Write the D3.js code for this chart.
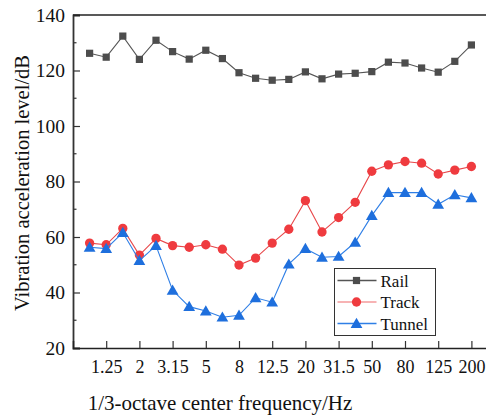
<!DOCTYPE html>
<html>
<head>
<meta charset="utf-8">
<script src="https://cdn.jsdelivr.net/npm/d3@7/dist/d3.min.js"></script>
<style>
  html, body { margin: 0; padding: 0; background: #fff; }
  svg { display: block; }
  svg text { font-family: "Liberation Serif", "Times New Roman", serif; }
</style>
</head>
<body>
<svg id="chart" width="486" height="415"></svg>
<script>
// 1/3-octave centre frequencies (Hz)
const frequencies = ["1", "1.25", "1.6", "2", "2.5", "3.15", "4", "5", "6.3", "8", "10", "12.5",
  "16", "20", "25", "31.5", "40", "50", "63", "80", "100", "125", "160", "200"];
const tickLabels = ["1.25", "2", "3.15", "5", "8", "12.5", "20", "31.5", "50", "80", "125", "200"];

// Vibration acceleration level (dB)
const railLevels = [126.2, 124.8, 132.4, 124.0, 130.9, 126.8, 124.1, 127.3, 124.3, 119.2, 117.2, 116.5,
  116.8, 119.5, 117.0, 118.7, 119.0, 119.6, 123.0, 122.7, 120.9, 119.4, 123.3, 129.2];
const trackLevels = [57.8, 57.2, 63.1, 53.5, 59.5, 56.9, 56.3, 57.2, 55.6, 49.9, 52.4, 57.8,
  62.8, 73.1, 61.8, 67.0, 72.5, 83.7, 86.0, 87.2, 86.6, 82.7, 84.1, 85.4];
const tunnelLevels = [56.3, 55.8, 61.6, 51.5, 56.9, 40.8, 34.9, 33.3, 31.1, 31.8, 38.1, 36.5,
  50.2, 55.8, 52.7, 53.0, 58.1, 67.7, 76.0, 76.0, 76.0, 71.8, 75.2, 74.1];

const yTicks = [20, 40, 60, 80, 100, 120, 140];

const series = [
  { name: "Rail", values: railLevels, color: "#555555", marker: "#4d4d4d", legendLine: "#555555", symbol: d3.symbolSquare, size: 52 },
  { name: "Track", values: trackLevels, color: "#e8474a", marker: "#ef3b3f", legendLine: "#f49a9b", symbol: d3.symbolCircle, size: 68 },
  { name: "Tunnel", values: tunnelLevels, color: "#2f7fe6", marker: "#1e6fdd", legendLine: "#2f7fe6", symbol: d3.symbolTriangle, size: 60 }
];

const svg = d3.select("#chart");
const plotLeft = 73, plotRight = 488, plotTop = 15, plotBottom = 348;
const serif = "'Liberation Serif', 'Times New Roman', serif";

const x = d3.scalePoint().domain(frequencies).range([plotLeft, plotRight]).padding(1);
const y = d3.scaleLinear().domain([20, 140]).range([plotBottom, plotTop]);

// Lines and markers
const line = d3.line().x((d, i) => x(frequencies[i])).y(d => y(d));
series.forEach(s => {
  svg.append("path")
    .datum(s.values)
    .attr("fill", "none")
    .attr("stroke", s.color)
    .attr("stroke-width", 1.1)
    .attr("d", line);
  svg.append("g").selectAll("path")
    .data(s.values)
    .join("path")
    .attr("transform", (d, i) => `translate(${x(frequencies[i])},${y(d) + (s.symbol === d3.symbolTriangle ? 1 : 0)})`)
    .attr("d", d3.symbol(s.symbol, s.size))
    .attr("fill", s.marker);
});

// Y axis
const yAxis = d3.axisLeft(y).tickValues(yTicks).tickSize(-7).tickPadding(8).tickFormat(d3.format("d"));
const gy = svg.append("g").attr("transform", `translate(${plotLeft},0)`).call(yAxis);
gy.attr("font-family", serif).attr("font-size", null);
gy.select(".domain").attr("stroke", "#333").attr("stroke-width", 1.8);
gy.selectAll(".tick line").attr("stroke", "#333").attr("stroke-width", 1.2);
gy.selectAll(".tick text").attr("font-family", serif).style("font-size", "19.5px").style("font-family", serif).attr("fill", "#111");
// minor ticks
const minor = d3.range(30, 140, 20);
svg.append("g").selectAll("line").data(minor).join("line")
  .attr("x1", plotLeft).attr("x2", plotLeft + 3.5)
  .attr("y1", d => y(d)).attr("y2", d => y(d))
  .attr("stroke", "#333").attr("stroke-width", 1.2);

// X axis
const xAxis = d3.axisBottom(x).tickValues(tickLabels).tickSize(-7).tickPadding(12);
const gx = svg.append("g").attr("transform", `translate(0,${plotBottom})`).call(xAxis);
gx.attr("font-family", serif).attr("font-size", null);
gx.select(".domain").attr("stroke", "#222").attr("stroke-width", 1.5);
gx.selectAll(".tick line").attr("stroke", "#333").attr("stroke-width", 1.2);
gx.selectAll(".tick text").attr("font-family", serif).style("font-size", "18px").style("font-family", serif).attr("fill", "#111");

// Top frame line
svg.append("line")
  .attr("x1", plotLeft).attr("x2", 486).attr("y1", plotTop).attr("y2", plotTop)
  .attr("stroke", "#222").attr("stroke-width", 1.5);

// Axis titles
svg.append("text")
  .attr("x", 220).attr("y", 410)
  .attr("text-anchor", "middle")
  .style("font-size", "21px").attr("fill", "#111")
  .text("1/3-octave center frequency/Hz");
svg.append("text")
  .attr("transform", `translate(29,183) rotate(-90)`)
  .attr("text-anchor", "middle")
  .style("font-size", "20.5px").attr("fill", "#111")
  .text("Vibration acceleration level/dB");

// Legend
const lg = svg.append("g").attr("transform", "translate(334.5,268.5)");
lg.append("rect").attr("width", 101).attr("height", 67)
  .attr("fill", "#fff").attr("stroke", "#333").attr("stroke-width", 1);
series.forEach((s, i) => {
  const cy = 12 + i * 21.5;
  lg.append("line").attr("x1", 3).attr("x2", 42).attr("y1", cy).attr("y2", cy)
    .attr("stroke", s.legendLine).attr("stroke-width", 1.3);
  lg.append("path")
    .attr("transform", `translate(22,${cy + (s.symbol === d3.symbolTriangle ? 1 : 0)})`)
    .attr("d", d3.symbol(s.symbol, s.size))
    .attr("fill", s.marker);
  lg.append("text").attr("x", 46).attr("y", cy + 6)
    .style("font-size", "17px").attr("fill", "#111")
    .text(s.name);
});
</script>
</body>
</html>
